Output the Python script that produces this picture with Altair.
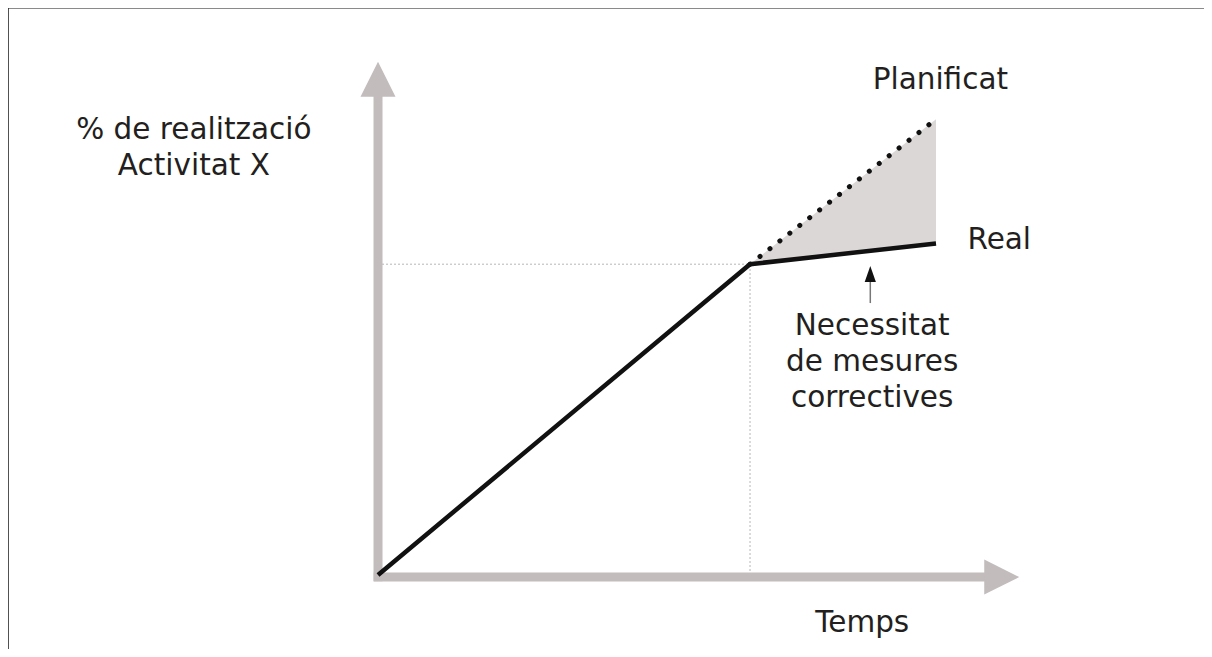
import altair as alt
import pandas as pd

# ---- data (in chart units: time, % of completion) ----
real_time = [0, 6, 9]
real_pct = [0, 60, 64]

plan_time = [6, 9]
plan_pct = [60, 88]

gap_time = [6, 9]
gap_low = [60, 64]
gap_high = [60, 88]

# axes (shafts and arrowheads)
shaft_x = [0.0, -0.07]
shaft_y = [-1.2, -0.4]
shaft_x2 = [0.0, 9.8]
shaft_y2 = [92.5, -0.4]
head_x = [0.0, 10.06]
head_y = [95.7, -0.4]
head_shape = ["M0,-1L1,1L-1,1Z", "M1,0L-1,1L-1,-1Z"]

# guide lines at the break point
guide_x = [0, 6]
guide_y = [60, 0]
guide_x2 = [6, 6]
guide_y2 = [60, 60]

# small annotation arrow
note_arrow_x = [7.94]
note_arrow_y = [52.5]
note_arrow_y2 = [57.0]
note_head_y = [58.1]

# labels
label_text = ["% de realització", "Activitat X", "Planificat", "Real",
              "Necessitat", "de mesures", "correctives", "Temps"]
label_x = [-2.97, -2.97, 9.07, 10.02, 7.97, 7.97, 7.97, 7.81]
label_y = [85.9, 78.96, 95.56, 64.67, 48.07, 41.12, 34.17, -9.27]

W, H = 1196, 641
XMIN, XMAX = -5.968, -5.968 + W / 62.0
YMAX = 109.46
YMIN = YMAX - H / 5.18

xs = alt.Scale(domain=[XMIN, XMAX], nice=False, zero=False)
ys = alt.Scale(domain=[YMIN, YMAX], nice=False, zero=False)

AXIS_GRAY = "#c2bcbc"
FONT = "DejaVu Sans"

shafts = pd.DataFrame({"x": shaft_x, "y": shaft_y, "x2": shaft_x2, "y2": shaft_y2})
heads = pd.DataFrame({"x": head_x, "y": head_y, "shape": head_shape})
guides = pd.DataFrame({"x": guide_x, "y": guide_y, "x2": guide_x2, "y2": guide_y2})
real_df = pd.DataFrame({"t": real_time, "p": real_pct})
plan_df = pd.DataFrame({"t": plan_time, "p": plan_pct})
gap_df = pd.DataFrame({"t": gap_time, "lo": gap_low, "hi": gap_high})
note_df = pd.DataFrame({"x": note_arrow_x, "y": note_arrow_y, "y2": note_arrow_y2, "hy": note_head_y})
labels = pd.DataFrame({"text": label_text, "x": label_x, "y": label_y})

X = lambda f: alt.X(f, type="quantitative", scale=xs, axis=None)
Y = lambda f: alt.Y(f, type="quantitative", scale=ys, axis=None)

gap = alt.Chart(gap_df).mark_area(color="#dcd7d7", opacity=1).encode(
    x=X("t"), y=Y("lo"), y2="hi"
)

guide_layer = alt.Chart(guides).mark_rule(color="#b9b4b4", strokeWidth=1, strokeDash=[2, 2]).encode(
    x=X("x"), y=Y("y"), x2="x2", y2="y2"
)

shaft_layer = alt.Chart(shafts).mark_rule(color=AXIS_GRAY, strokeWidth=9).encode(
    x=X("x"), y=Y("y"), x2="x2", y2="y2"
)

head_layer = alt.Chart(heads).mark_point(filled=True, color=AXIS_GRAY, size=1225, opacity=1).encode(
    x=X("x"), y=Y("y"), shape=alt.Shape("shape:N", scale=None, legend=None)
)

plan_layer = alt.Chart(plan_df).mark_line(
    color="#111111", strokeWidth=5, strokeDash=[0.1, 12.5], strokeCap="round"
).encode(x=X("t"), y=Y("p"))

real_layer = alt.Chart(real_df).mark_line(color="#111111", strokeWidth=4.5, strokeJoin="miter").encode(
    x=X("t"), y=Y("p")
)

note_shaft = alt.Chart(note_df).mark_rule(color="#777777", strokeWidth=1.5).encode(
    x=X("x"), y=Y("y"), y2="y2"
)
note_head = alt.Chart(note_df).mark_point(
    filled=True, color="#111111", size=256, opacity=1, shape="M0,-1L0.7,1L-0.7,1Z"
).encode(x=X("x"), y=Y("hy"))

text_layer = alt.Chart(labels).mark_text(
    font=FONT, fontSize=29.5, color="#231f20", align="center", baseline="middle"
).encode(x=X("x"), y=Y("y"), text="text:N")

frame_top = alt.Chart(pd.DataFrame({"a": [0]})).mark_rule(color="#8a8a8a", strokeWidth=2).encode(
    x=alt.value(0), x2=alt.value(W), y=alt.value(0)
)
frame_left = alt.Chart(pd.DataFrame({"a": [0]})).mark_rule(color="#222222", strokeWidth=1.5).encode(
    x=alt.value(0), y=alt.value(0), y2=alt.value(H)
)

chart = alt.layer(
    gap, guide_layer, shaft_layer, head_layer, plan_layer, real_layer,
    note_shaft, note_head, text_layer, frame_top, frame_left
).properties(
    width=W, height=H, padding=0, autosize=alt.AutoSizeParams(type="none")
).configure_view(stroke="transparent", strokeWidth=0).configure(background="white")

chart.save("out.html", embed_options={"renderer": "svg", "actions": False})
